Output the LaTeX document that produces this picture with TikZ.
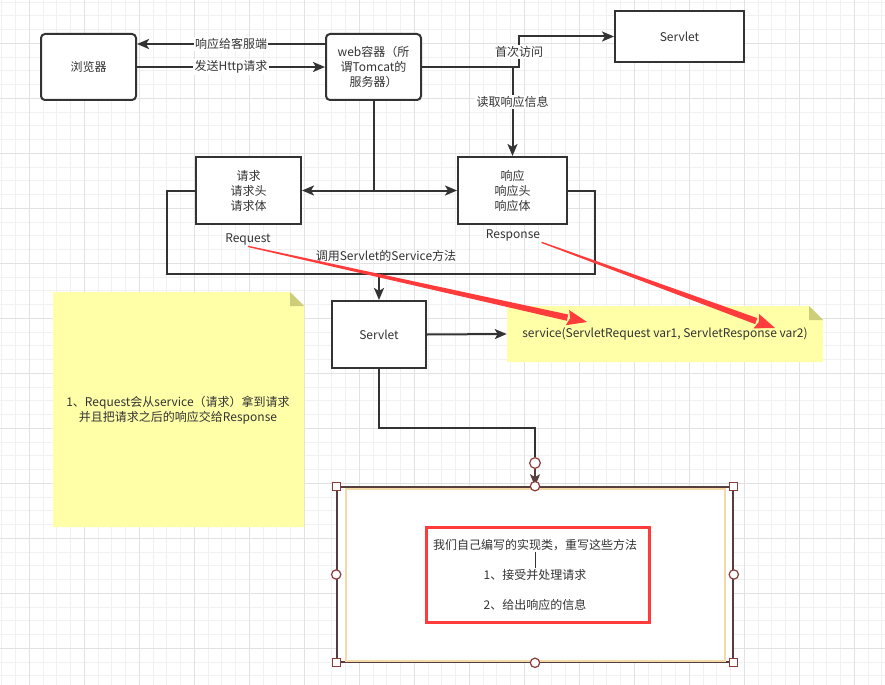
\documentclass[tikz,border=0pt]{standalone}
\usepackage{fontspec}
\setmainfont{Noto Sans CJK SC}
\usetikzlibrary{arrows.meta,calc}
\definecolor{ink}{HTML}{333333}
\definecolor{gridminor}{HTML}{F1F1F1}
\definecolor{gridmajor}{HTML}{E2E2E2}
\definecolor{notefill}{HTML}{FFFFA8}
\definecolor{notefold}{HTML}{CDCD7A}
\definecolor{alert}{HTML}{FF3B3B}
\definecolor{handle}{HTML}{8E3B3B}
\definecolor{frame}{HTML}{553E3E}
\definecolor{tanline}{HTML}{F5D9A6}

\begin{document}
\begin{tikzpicture}[
    x=0.75pt, y=-0.75pt,
    font=\fontsize{9}{11.25}\selectfont, text=ink,
    wh/.style 2 args={minimum width=#1*0.75pt, minimum height=#2*0.75pt},
    box/.style={draw=ink, line width=1.5pt, fill=white, inner sep=2pt, align=center},
    rbox/.style={box, rounded corners=3pt},
    line/.style={line width=1.5pt, draw=ink},
    conn/.style={line, -{Stealth[length=9pt,width=7.5pt,inset=2.2pt]}},
    edgelbl/.style={fill=white, inner sep=1pt},
    txt/.style={inner sep=1pt, align=center},
    sqhandle/.style={draw=handle, fill=white, line width=0.9pt, minimum size=6pt, inner sep=0pt},
    cirhandle/.style={circle, draw=handle, fill=white, line width=0.9pt, minimum size=7pt, inner sep=0pt},
    redarrow/.style={fill=alert}
]

\useasboundingbox (0,0) rectangle (885,685);
\fill[white] (0,0) rectangle (885,685);

% grid
\foreach \i in {-2,...,62}
    \draw[gridminor, line width=0.75pt] ({29.3+13.75*\i},0) -- ++(0,685);
\foreach \i in {-3,...,46}
    \draw[gridminor, line width=0.75pt] (0,{43.3+13.75*\i}) -- ++(885,0);
\foreach \i in {0,...,15}
    \draw[gridmajor, line width=0.75pt] ({29.3+55*\i},0) -- ++(0,685);
\foreach \i in {0,...,11}
    \draw[gridmajor, line width=0.75pt] (0,{43.3+55*\i}) -- ++(885,0);

% notes
\fill[notefill] (53,292) -- (290,292) -- (304,306) -- (304,527) -- (53,527) -- cycle;
\fill[notefold] (290,292) -- (290,306) -- (304,306) -- cycle;
\fill[notefill] (507,306) -- (809,306) -- (823,320) -- (823,362) -- (507,362) -- cycle;
\fill[notefold] (809,306) -- (809,320) -- (823,320) -- cycle;

\node[txt] (tipnote) at (178,410.5)
    {1、Request会从service（请求）拿到请求\\并且把请求之后的响应交给Response};
\node[txt, wh={316}{56}] (svcnote) at (665,334)
    {service(ServletRequest var1, ServletResponse var2)};

% boxes
\node[rbox, wh={95}{66}]  (browser) at (88.5,67)   {浏览器};
\node[rbox, wh={95}{66}]  (web)     at (373.5,67)  {web容器（所\\谓Tomcat的\\服务器）};
\node[box,  wh={129}{51}] (topsrv)  at (679.5,36.5) {Servlet};
\node[box,  wh={105}{67}] (req)     at (248.5,190.5) {请求\\请求头\\请求体};
\node[box,  wh={109}{67}] (resp)    at (512.5,190.5) {响应\\响应头\\响应体};
\node[box,  wh={94}{67}]  (srv)     at (379,334.5)  {Servlet};

\node[txt] (reqlbl) at (248,239) {Request};
\node[txt] (reslbl) at (513,235) {Response};
\node[txt] (calllbl) at (386,256) {调用Servlet的Service方法};

% browser <-> web
\draw[conn] ([yshift=17.25pt]web.west) -- node[edgelbl]{响应给客服端} ([yshift=17.25pt]browser.east);
\draw[conn] (browser.east) -- node[edgelbl]{发送Http请求} (web.west);

% web -> servlet, web -> response
\draw[conn] (web.east) -- ++(97,0) |- node[edgelbl, pos=0.25]{首次访问} (topsrv.west);
\draw[conn] (resp.north |- web.east) -- node[edgelbl, pos=0.39]{读取响应信息} (resp.north);

% web -> request / response
\coordinate (split) at (web.south |- req.east);
\draw[line] (web.south) -- (split);
\draw[conn] (split) -- (req.east);
\draw[conn] (split) -- (resp.west);

% loop to servlet
\draw[line] (req.west) -- ++(-28,0) |- (595,274) |- (resp.east);
\draw[conn] (srv.north) ++(0,-27) -- (srv.north);
\draw[conn] (srv.east) -- (svcnote.west);

% implementation box
\node[draw=frame, line width=1.2pt, fill=white, wh={396}{175}] (impl) at (535,574.5) {};
\draw[tanline, line width=1.2pt] (346,489) rectangle (725,661);
\node[draw=alert, line width=2.25pt, wh={223}{95}] (redbox) at (537.5,574.5) {};
\node[txt] (l1) at (535,545) {我们自己编写的实现类，重写这些方法};
\node[txt] (l2) at (535,575) {1、接受并处理请求};
\node[txt] (l3) at (535,605) {2、给出响应的信息};
\draw[ink, line width=0.6pt] (l1.south) -- (l2.north);

\node[cirhandle, minimum size=8pt] (hdl) at (535,463) {};
\draw[line] (srv.south) -- ++(0,59) -| (hdl);
\draw[conn, draw=frame] (hdl) -- (impl.north);

\foreach \p [count=\i] in {north west, north east, south west, south east}
    \node[sqhandle] (sq\i) at (impl.\p) {};
\foreach \p [count=\i] in {north, south, west, east}
    \node[cirhandle] (ch\i) at (impl.\p) {};

% red tapered arrows
\coordinate (reqtip) at (587,322);
\coordinate (restip) at (775,328);
\foreach \t/\h in {reqlbl.south/reqtip, reslbl.south east/restip} {
    \coordinate (hb) at ($(\h)!15pt!(\t)$);
    \fill[redarrow] ($(\t)!0.5pt!90:(\h)$) -- ($(hb)!2.4pt!90:(\h)$)
        -- ($(hb)!2.4pt!-90:(\h)$) -- ($(\t)!0.5pt!-90:(\h)$) -- cycle;
    \fill[redarrow] ($(hb)!5.8pt!90:(\h)$) -- (\h) -- ($(hb)!5.8pt!-90:(\h)$)
        -- ($(hb)!2pt!(\h)$) -- cycle;
}

\end{tikzpicture}
\end{document}
